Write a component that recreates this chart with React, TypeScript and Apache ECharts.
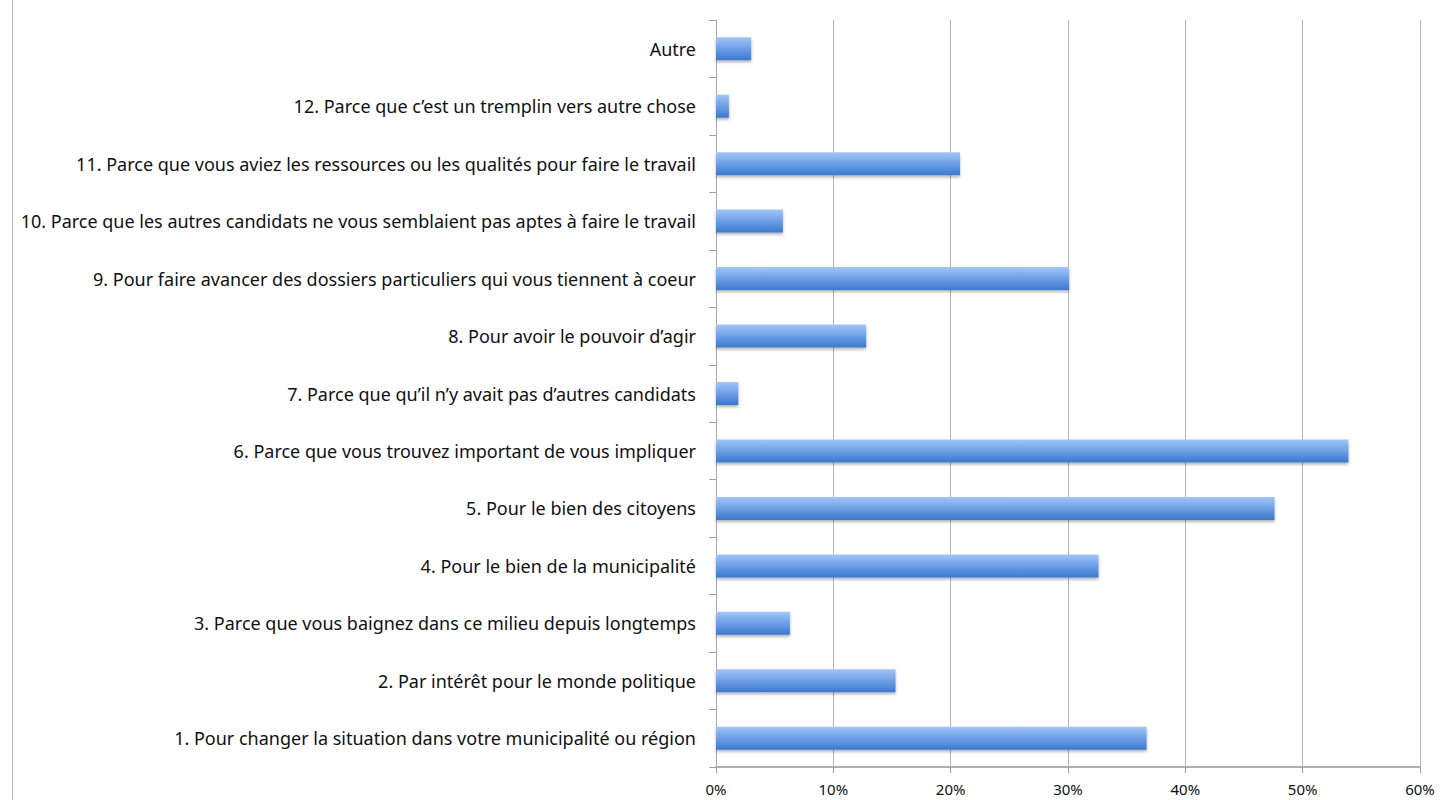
import React, { useEffect, useRef } from "react";
import * as echarts from "echarts";

const categories = [
  "1. Pour changer la situation dans votre municipalité ou région",
  "2. Par intérêt pour le monde politique",
  "3. Parce que vous baignez dans ce milieu depuis longtemps",
  "4. Pour le bien de la municipalité",
  "5. Pour le bien des citoyens",
  "6. Parce que vous trouvez important de vous impliquer",
  "7. Parce que qu’il n’y avait pas d’autres candidats",
  "8. Pour avoir le pouvoir d’agir",
  "9. Pour faire avancer des dossiers particuliers qui vous tiennent à coeur",
  "10. Parce que les autres candidats ne vous semblaient pas aptes à faire le travail",
  "11. Parce que vous aviez les ressources ou les qualités pour faire le travail",
  "12. Parce que c’est un tremplin vers autre chose",
  "Autre",
];

const values = [36.7, 15.3, 6.3, 32.6, 47.6, 53.9, 1.9, 12.8, 30.1, 5.7, 20.8, 1.1, 3.0];

const xTicks = [0, 10, 20, 30, 40, 50, 60];

export default function App() {
  const ref = useRef<HTMLDivElement>(null);
  useEffect(() => {
    if (!ref.current) return;
    const chart = echarts.init(ref.current, undefined, { renderer: "svg" });
    chart.setOption({
      animation: false,
      backgroundColor: "#ffffff",
      grid: { left: 716, right: 24, top: 20, bottom: 33, containLabel: false },
      graphic: [
        {
          type: "line",
          shape: { x1: 12.5, y1: 0, x2: 12.5, y2: 800 },
          style: { stroke: "#b8b8b8", lineWidth: 1 },
        },
      ],
      xAxis: {
        type: "value",
        min: xTicks[0],
        max: xTicks[xTicks.length - 1],
        interval: 10,
        axisLine: { show: true, lineStyle: { color: "#b0b0b0", width: 2 } },
        axisTick: { show: true, length: 6, lineStyle: { color: "#a0a0a0" } },
        splitLine: { show: true, lineStyle: { color: "#b4b4b4", width: 1 } },
        axisLabel: {
          formatter: (v: number) => v + "%",
          color: "#111",
          fontFamily: "Noto Sans",
          fontSize: 15,
          margin: 14,
        },
      },
      yAxis: {
        type: "category",
        data: categories,
        axisLine: { show: true, lineStyle: { color: "#a8a8a8", width: 1 } },
        axisTick: { show: true, length: 7, alignWithLabel: false, lineStyle: { color: "#a0a0a0" } },
        axisLabel: {
          color: "#111",
          fontFamily: "Noto Sans",
          fontSize: 18,
          margin: 20,
          interval: 0,
        },
      },
      series: [
        {
          type: "bar",
          data: values,
          barWidth: "40%",
          itemStyle: {
            color: new echarts.graphic.LinearGradient(0, 0, 0, 1, [
              { offset: 0, color: "#a3c6f7" },
              { offset: 0.5, color: "#6d9fe6" },
              { offset: 1, color: "#3b78cc" },
            ]),
            shadowColor: "rgba(0,0,0,0.3)",
            shadowBlur: 3,
            shadowOffsetY: 2,
          },
        },
      ],
    });
    return () => chart.dispose();
  }, []);
  return (
    <div
      ref={ref}
      style={{ position: "fixed", left: 0, top: 0, width: 1444, height: 800 }}
    />
  );
}
